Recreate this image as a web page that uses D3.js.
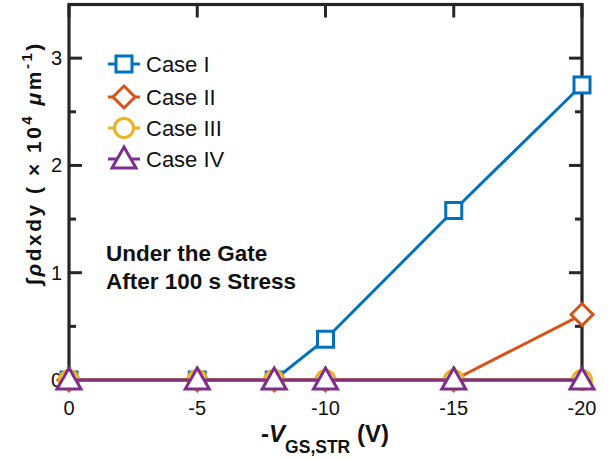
<!DOCTYPE html>
<html>
<head>
<meta charset="utf-8">
<script src="https://cdn.jsdelivr.net/npm/d3@7"></script>
<style>
  body { margin: 0; background: #fff; }
  svg { font-family: Arial, "Liberation Sans", sans-serif; }
</style>
</head>
<body>
<svg id="chart" width="615" height="460"></svg>
<script>
// data
const vgs = [0, -5, -8, -10, -15, -20];
const caseI = [0, 0, 0, 0.38, 1.58, 2.75];
const caseII = [0, 0, 0, 0, 0, 0.61];
const caseIII = [0, 0, 0, 0, 0, 0];
const caseIV = [0, 0, 0, 0, 0, 0];
const seriesNames = ["Case I", "Case II", "Case III", "Case IV"];
const xTicks = [0, -5, -10, -15, -20];
const yTicks = [0, 1, 2, 3];
const yMinor = [0.5, 1.5, 2.5];

const colors = ["#0072BD", "#D95319", "#EDB120", "#7E2F8E"];
const shapes = ["square", "diamond", "circle", "triangle"];
const allSeries = [caseI, caseII, caseIII, caseIV];

const svg = d3.select("#chart");
const plotL = 69, plotR = 582, plotT = 4.5, plotB = 380;

const x = d3.scaleLinear().domain([0, -20]).range([plotL, plotR]);
const y = d3.scaleLinear().domain([0, 3.5]).range([plotB, plotT]);

const axisCol = "#262626";
const tickMaj = 13, tickMin = 7;
const lw = 3;

// box
svg.append("rect")
  .attr("x", plotL).attr("y", plotT)
  .attr("width", plotR - plotL).attr("height", plotB - plotT)
  .attr("fill", "none").attr("stroke", axisCol).attr("stroke-width", 3.2);

// y ticks (left and right, inward)
const g = svg.append("g");
yTicks.forEach(t => {
  g.append("line").attr("x1", plotL).attr("x2", plotL + tickMaj)
    .attr("y1", y(t)).attr("y2", y(t)).attr("stroke", axisCol).attr("stroke-width", 3);
  g.append("line").attr("x1", plotR).attr("x2", plotR - tickMaj)
    .attr("y1", y(t)).attr("y2", y(t)).attr("stroke", axisCol).attr("stroke-width", 3);
  g.append("text").attr("x", plotL - 7).attr("y", y(t) + 7)
    .attr("text-anchor", "end").attr("font-size", 20).attr("fill", "#111")
    .text(t);
});
yMinor.forEach(t => {
  g.append("line").attr("x1", plotL).attr("x2", plotL + tickMin)
    .attr("y1", y(t)).attr("y2", y(t)).attr("stroke", axisCol).attr("stroke-width", 3);
  g.append("line").attr("x1", plotR).attr("x2", plotR - tickMin)
    .attr("y1", y(t)).attr("y2", y(t)).attr("stroke", axisCol).attr("stroke-width", 3);
});

// x ticks (top and bottom, inward)
xTicks.forEach(t => {
  g.append("line").attr("x1", x(t)).attr("x2", x(t))
    .attr("y1", plotT).attr("y2", plotT + tickMaj).attr("stroke", axisCol).attr("stroke-width", 3);
  g.append("line").attr("x1", x(t)).attr("x2", x(t))
    .attr("y1", plotB).attr("y2", plotB - tickMaj).attr("stroke", axisCol).attr("stroke-width", 3);
  g.append("text").attr("x", x(t)).attr("y", plotB + 35)
    .attr("text-anchor", "middle").attr("font-size", 20).attr("fill", "#111")
    .text(t);
});

// marker drawing
function drawMarker(sel, shape, cx, cy, color) {
  if (shape === "square") {
    sel.append("rect").attr("x", cx - 8).attr("y", cy - 8)
      .attr("width", 16).attr("height", 16)
      .attr("fill", "#fff").attr("stroke", color).attr("stroke-width", lw);
  } else if (shape === "diamond") {
    sel.append("path")
      .attr("d", `M${cx},${cy - 11}L${cx + 11},${cy}L${cx},${cy + 11}L${cx - 11},${cy}Z`)
      .attr("fill", "#fff").attr("stroke", color).attr("stroke-width", lw);
  } else if (shape === "circle") {
    sel.append("circle").attr("cx", cx).attr("cy", cy).attr("r", 9.5)
      .attr("fill", "#fff").attr("stroke", color).attr("stroke-width", lw);
  } else {
    sel.append("path")
      .attr("d", `M${cx},${cy - 12}L${cx + 12},${cy + 9}L${cx - 12},${cy + 9}Z`)
      .attr("fill", "#fff").attr("stroke", color).attr("stroke-width", lw);
  }
}

const line = d3.line().x(d => x(d[0])).y(d => y(d[1]));

allSeries.forEach((vals, i) => {
  const pts = vgs.map((v, j) => [v, vals[j]]);
  const sg = svg.append("g");
  sg.append("path").attr("d", line(pts))
    .attr("fill", "none").attr("stroke", colors[i]).attr("stroke-width", lw);
  pts.forEach(p => drawMarker(sg, shapes[i], x(p[0]), y(p[1]), colors[i]));
});

// legend
const legY = [64, 97, 128, 159];
seriesNames.forEach((name, i) => {
  const lg = svg.append("g");
  lg.append("line").attr("x1", 108).attr("x2", 140)
    .attr("y1", legY[i]).attr("y2", legY[i])
    .attr("stroke", colors[i]).attr("stroke-width", lw);
  drawMarker(lg, shapes[i], 124, legY[i], colors[i]);
  lg.append("text").attr("x", 146).attr("y", legY[i] + 8)
    .attr("font-size", 22).attr("fill", "#111").text(name);
});

// annotation
svg.append("text").attr("x", 106).attr("y", 261)
  .attr("font-size", 22.5).attr("font-weight", "bold").attr("fill", "#111")
  .text("Under the Gate");
svg.append("text").attr("x", 106).attr("y", 289)
  .attr("font-size", 22.5).attr("font-weight", "bold").attr("fill", "#111")
  .text("After 100 s Stress");

// x label
const xl = svg.append("text").attr("x", 325).attr("y", 442)
  .attr("text-anchor", "middle").attr("font-size", 24).attr("font-weight", "bold").attr("fill", "#111");
xl.append("tspan").text("-");
xl.append("tspan").attr("font-style", "italic").text("V");
xl.append("tspan").attr("font-size", 17.5).attr("dy", 11).text("GS,STR");
xl.append("tspan").attr("dy", -11).text(" (V)");

// y label
const yl = svg.append("text")
  .attr("transform", "translate(41,163) rotate(-90)")
  .attr("text-anchor", "middle").attr("font-size", 21).attr("font-weight", "bold")
  .attr("fill", "#111").attr("letter-spacing", 2.5);
yl.append("tspan").attr("font-style", "italic").text("∫ρ");
yl.append("tspan").text("dxdy ( × 10");
yl.append("tspan").attr("font-size", 15).attr("dy", -9).text("4");
yl.append("tspan").attr("dy", 9).attr("font-style", "italic").text(" μ");
yl.append("tspan").text("m");
yl.append("tspan").attr("font-size", 15).attr("dy", -9).text("-1");
yl.append("tspan").attr("dy", 9).text(")");
</script>
</body>
</html>
